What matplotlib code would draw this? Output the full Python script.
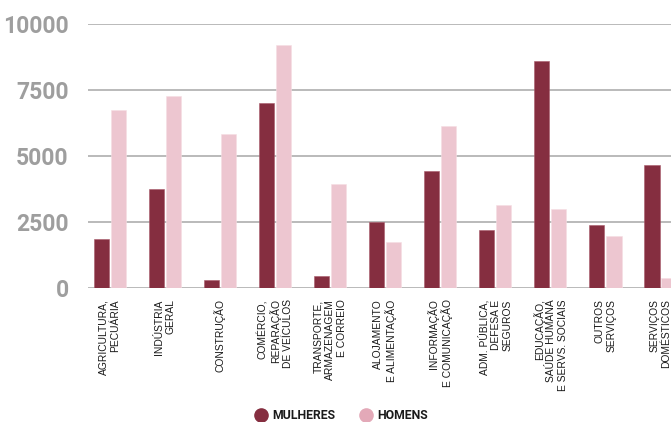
import numpy as np
import matplotlib.pyplot as plt
from matplotlib.lines import Line2D

plt.rcParams['font.family'] = ['Roboto', 'DejaVu Sans']

setores = [
    "AGRICULTURA,\nPECUÁRIA",
    "INDÚSTRIA\nGERAL",
    "CONSTRUÇÃO",
    "COMÉRCIO,\nREPARAÇÃO\nDE VEÍCULOS",
    "TRANSPORTE,\nARMAZENAGEM\nE CORREIO",
    "ALOJAMENTO\nE ALIMENTAÇÃO",
    "INFORMAÇÃO\nE COMUNICAÇÃO",
    "ADM. PÚBLICA,\nDEFESA E\nSEGUROS",
    "EDUCAÇÃO,\nSAÚDE HUMANA\nE SERVS. SOCIAIS",
    "OUTROS\nSERVIÇOS",
    "SERVIÇOS\nDOMÉSTICOS",
]
mulheres = [1880, 3760, 320, 7010, 460, 2515, 4460, 2220, 8610, 2410, 4660]
homens = [6755, 7290, 5840, 9195, 3935, 1755, 6135, 3150, 2985, 1965, 405]
yticks = [0, 2500, 5000, 7500, 10000]

cor_m = '#852e40'
cor_h = '#edc6d0'

fig = plt.figure(figsize=(6.71, 4.22), dpi=100)
ax = fig.add_axes([0.1311, 0.3168, 0.8689, 0.6258])

x = np.arange(len(setores))
w = 0.275
ax.bar(x - 0.155, mulheres, w, color=cor_m, edgecolor='#a85a6a', linewidth=0.4, zorder=3)
ax.bar(x + 0.155, homens, w, color=cor_h, edgecolor='#f6dde3', linewidth=0.4, zorder=3)

ax.set_xlim(-0.394, 10.19)
ax.set_ylim(0, 10000)
ax.set_yticks(yticks)
ax.set_yticklabels([str(v) for v in yticks], fontsize=16.5, fontweight='bold', color='#9e9e9e')
ax.yaxis.grid(True, color='#b4b4b4', linewidth=1.3, zorder=0)
ax.tick_params(axis='y', length=0, pad=14)
ax.tick_params(axis='x', length=0, pad=8)
ax.set_xticks(x)
ax.set_xticklabels(setores, rotation=90, fontsize=7.4, color='#1a1a1a',
                   family=['Liberation Sans', 'DejaVu Sans'],
                   va='top', ha='center', multialignment='right', linespacing=1.2)
for s in ax.spines.values():
    s.set_visible(False)

# legenda centrada embaixo
for xc, cor, txt in [(0.389, cor_m, "MULHERES"), (0.545, '#e3a9b8', "HOMENS")]:
    fig.add_artist(Line2D([xc], [0.016], marker='o', markersize=9.5, color=cor,
                          linestyle='none', transform=fig.transFigure))
    fig.text(xc + 0.017, 0.016, txt, color='#1a1a1a', fontsize=8.8, fontweight='bold',
             va='center', ha='left')

fig.savefig('out.png', dpi=100)
